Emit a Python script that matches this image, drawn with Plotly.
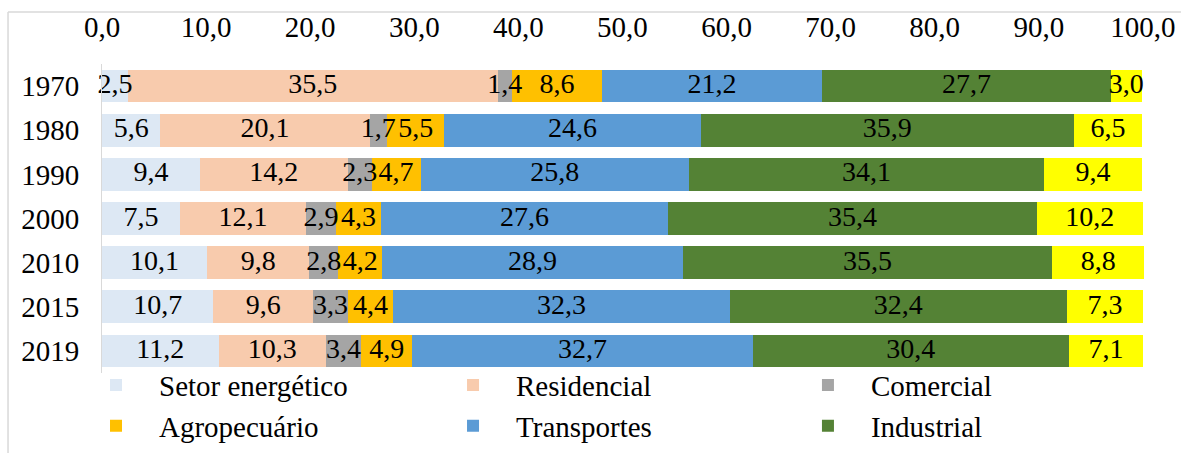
import numpy as np
import plotly.graph_objects as go

years = ["1970", "1980", "1990", "2000", "2010", "2015", "2019"]
setor_energetico = [2.5, 5.6, 9.4, 7.5, 10.1, 10.7, 11.2]
residencial = [35.5, 20.1, 14.2, 12.1, 9.8, 9.6, 10.3]
comercial = [1.4, 1.7, 2.3, 2.9, 2.8, 3.3, 3.4]
agropecuario = [8.6, 5.5, 4.7, 4.3, 4.2, 4.4, 4.9]
transportes = [21.2, 24.6, 25.8, 27.6, 28.9, 32.3, 32.7]
industrial = [27.7, 35.9, 34.1, 35.4, 35.5, 32.4, 30.4]
outros = [3.0, 6.5, 9.4, 10.2, 8.8, 7.3, 7.1]
x_ticks = [0, 10, 20, 30, 40, 50, 60, 70, 80, 90, 100]

series = [
    ("Setor energético", setor_energetico, "#DDE8F4", "legend", True),
    ("Residencial", residencial, "#F8CBAD", "legend2", True),
    ("Comercial", comercial, "#A5A5A5", "legend3", True),
    ("Agropecuário", agropecuario, "#FFC000", "legend", True),
    ("Transportes", transportes, "#5B9BD5", "legend2", True),
    ("Industrial", industrial, "#548235", "legend3", True),
    ("Outros", outros, "#FFFF00", "legend", False),
]

FONT = "Liberation Serif, Times New Roman, serif"

fig = go.Figure()
for name, vals, color, leg, show in series:
    fig.add_trace(go.Bar(
        y=years, x=vals, name=name, orientation="h",
        marker=dict(color=color, line=dict(width=0)),
        legend=leg, legendgroup=name, showlegend=show,
        hoverinfo="x+y+name",
    ))

# Data labels drawn on top of all bars (centred in each stacked segment)
vals_mat = np.array([s[1] for s in series], dtype=float)
ends = np.cumsum(vals_mat, axis=0)
mids = ends - vals_mat / 2.0
lab_x, lab_y, lab_t = [], [], []
for i in range(vals_mat.shape[0]):
    for j, yr in enumerate(years):
        lab_x.append(mids[i, j])
        lab_y.append(yr)
        lab_t.append(f"{vals_mat[i, j]:.1f}".replace(".", ","))
fig.add_trace(go.Scatter(
    x=lab_x, y=lab_y, text=lab_t, mode="text",
    textposition="middle center",
    textfont=dict(family=FONT, size=28, color="black"),
    showlegend=False, hoverinfo="skip", cliponaxis=False,
))

leg_common = dict(
    font=dict(family=FONT, size=29, color="black"),
    orientation="v", yanchor="top", xanchor="left",
    bgcolor="rgba(0,0,0,0)", tracegroupgap=5, itemwidth=76,
    traceorder="normal",
)

fig.update_layout(
    width=1181, height=453,
    margin=dict(l=102, r=36, t=64, b=80, autoexpand=False),
    paper_bgcolor="white", plot_bgcolor="white",
    barmode="stack", bargap=0.26,
    separators=",.",
    font=dict(family=FONT, size=29, color="black"),
    xaxis=dict(
        side="top", range=[0, 100.2], tickvals=x_ticks, tickformat=".1f",
        showgrid=False, zeroline=False, showline=False, ticks="",
        tickfont=dict(family=FONT, size=29, color="black"),
        ticklabelstandoff=20, automargin=False,
    ),
    yaxis=dict(
        categoryorder="array", categoryarray=years, autorange="reversed",
        showgrid=False, zeroline=False, showline=True, linecolor="#D9D9D9",
        linewidth=1, ticks="", ticklabelstandoff=16, automargin=False,
        tickfont=dict(family=FONT, size=29, color="black"),
    ),
    legend=dict(x=-0.0278, y=0.043, **leg_common),
    legend2=dict(x=0.3145, y=0.043, **leg_common),
    legend3=dict(x=0.6548, y=0.043, **leg_common),
    showlegend=True,
    shapes=[
        dict(type="line", xref="paper", yref="paper", x0=-0.0901, x1=1.04,
             y0=1.168, y1=1.168, line=dict(color="#D9D9D9", width=1.5)),
        dict(type="line", xref="paper", yref="paper", x0=-0.0901, x1=-0.0901,
             y0=1.168, y1=-0.27, line=dict(color="#D9D9D9", width=1.5)),
    ],
)

fig.write_html("out.html")
